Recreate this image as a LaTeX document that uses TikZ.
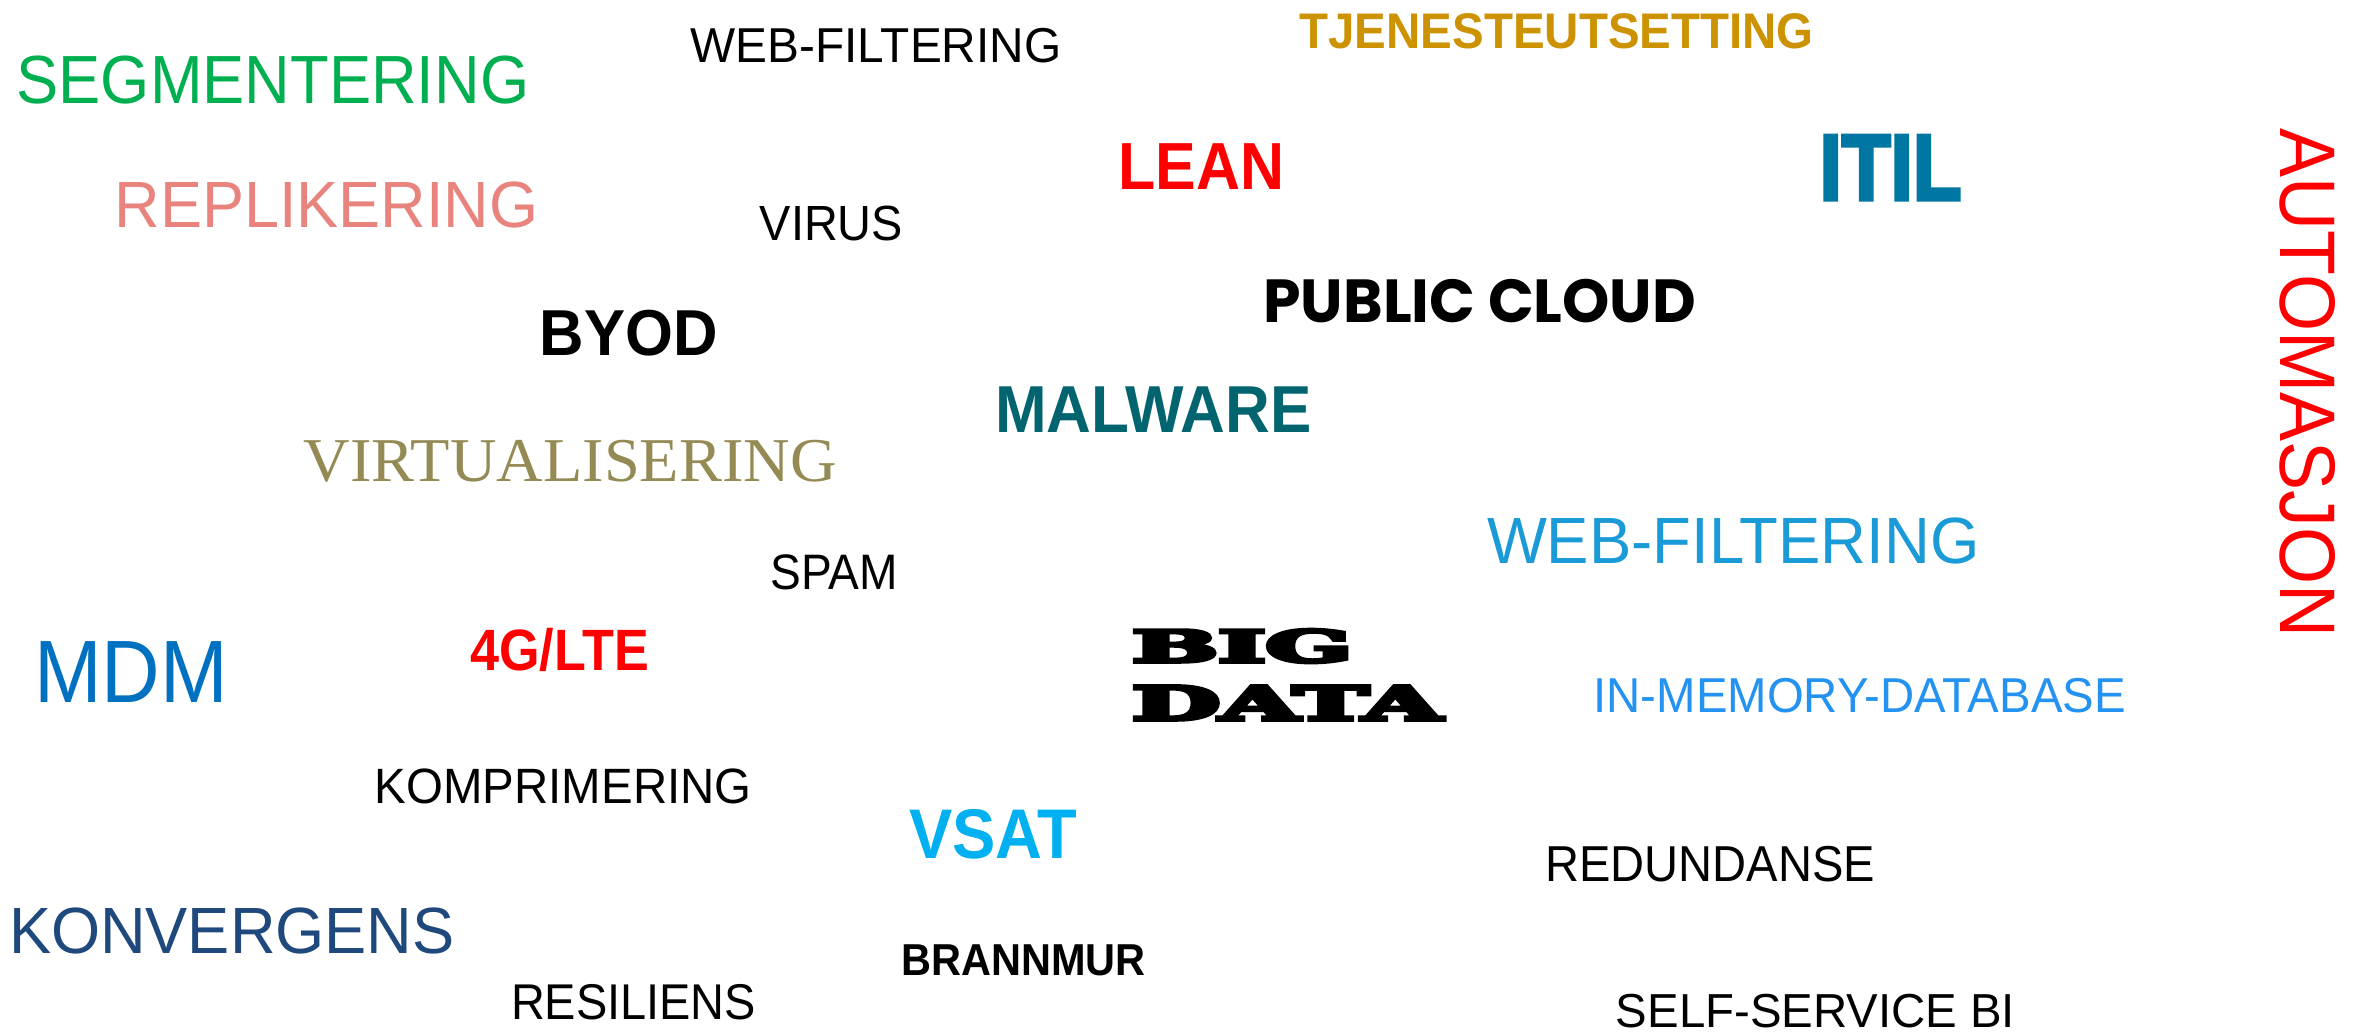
\documentclass[tikz,border=0pt]{standalone}
\usepackage{fontspec}
\usepackage{color}
\usepackage{xcolor}
\usepackage{graphicx}
\usepackage{tikz}
\setmainfont{Liberation Sans}
\newfontfamily\geofont{Poppins}
\newfontfamily\romfont{Liberation Serif}
\newfontfamily\slabfont{DejaVu Serif Bold}[FakeBold=8]
\newfontfamily\itilfont{Liberation Sans Bold}[FakeBold=4]
\newlength\pxu
\setlength\pxu{0.016667cm}
\definecolor{segGreen}{HTML}{00B050}
\definecolor{tjenGold}{HTML}{CC9200}
\definecolor{itilBlue}{HTML}{0076A3}
\definecolor{replRose}{HTML}{E8837D}
\definecolor{malTeal}{HTML}{02646E}
\definecolor{virtOlive}{HTML}{948A54}
\definecolor{webBlue}{HTML}{1A9AD6}
\definecolor{mdmBlue}{HTML}{0070C0}
\definecolor{imdbBlue}{HTML}{2392F0}
\definecolor{vsatCyan}{HTML}{00B0F0}
\definecolor{konvBlue}{HTML}{1F497D}

\begin{document}
\begin{tikzpicture}[x=0.016667cm,y=0.016667cm]
      \tikzset{word/.style={inner sep=0pt,outer sep=0pt,anchor=south west}}
      \tikzset{plain/.style={word,font=\mdseries}}
      \tikzset{heavy/.style={word,font=\bfseries}}
      \def\wfit#1#2#3{\resizebox*{#1\pxu}{#2\pxu}{#3}}
      
      \useasboundingbox (0,0) rectangle (1568,-684);
      
      \node[plain,color=segGreen] (seg) at (11,-69.3) {\wfit{340}{32}{SEGMENTERING}};
      \node[plain,color=black] (webf) at (458,-41.8) {\wfit{246}{23}{WEB-FILTERING}};
      \node[heavy,color=tjenGold] (tjen) at (862,-32.3) {\wfit{341}{23.5}{TJENESTEUTSETTING}};
      \node[heavy,color=red] (lean) at (742,-125.4) {\wfit{110}{30.4}{LEAN}};
      \node[word,color=itilBlue,font=\itilfont] (itil) at (1207,-132.4) {\wfit{94}{42.6}{ITIL}};
      \node[plain,color=red,rotate=-90] (auto) at (1512,-85.4) {\wfit{337.6}{37}{AUTOMASJON}};
      
      \node[plain,color=replRose] (repl) at (76,-151.3) {\wfit{281}{30.7}{REPLIKERING}};
      \node[plain,color=black] (virus) at (504,-160) {\wfit{95}{23.2}{VIRUS}};
      \node[word,color=black,font=\geofont\bfseries] (cloud) at (838,-214.5) {\wfit{287}{29}{PUBLIC CLOUD}};
      \node[heavy,color=black] (byod) at (358,-236.5) {\wfit{118}{30.5}{BYOD}};
      \node[heavy,color=malTeal] (malw) at (660,-287) {\wfit{210}{30.3}{MALWARE}};
      \node[word,color=virtOlive,font=\romfont] (virt) at (201.5,-320) {\wfit{353.5}{28}{VIRTUALISERING}};
      
      \node[plain,color=webBlue] (webb) at (986.3,-374) {\wfit{326.5}{30.7}{WEB-FILTERING}};
      \node[plain,color=black] (spam) at (511,-391.6) {\wfit{84.4}{23.4}{SPAM}};
      \node[plain,color=mdmBlue] (mdm) at (22.8,-465.7) {\wfit{128.5}{40.4}{MDM}};
      \node[heavy,color=red] (lte) at (312,-445.8) {\wfit{118.5}{28.8}{4G/LTE}};
      \node[word,color=black,font=\slabfont] (big) at (751,-439.5) {\wfit{146}{22}{BIG}};
      \node[word,color=black,font=\slabfont] (data) at (751,-477.5) {\wfit{205}{22.5}{DATA}};
      \node[plain,color=imdbBlue] (imdb) at (1057,-473) {\wfit{353}{23}{IN-MEMORY-DATABASE}};
      
      \node[plain,color=black] (komp) at (248.7,-533.3) {\wfit{249.8}{23.3}{KOMPRIMERING}};
      \node[heavy,color=vsatCyan] (vsat) at (603,-570) {\wfit{111.7}{33}{VSAT}};
      \node[plain,color=black] (redu) at (1025,-584.7) {\wfit{218.6}{23.7}{REDUNDANSE}};
      \node[plain,color=konvBlue] (konv) at (6,-632.7) {\wfit{295.5}{30.7}{KONVERGENS}};
      \node[heavy,color=black] (brann) at (598,-647.2) {\wfit{162}{20.7}{BRANNMUR}};
      \node[plain,color=black] (resil) at (339,-676.4) {\wfit{162.5}{23.6}{RESILIENS}};
      \node[plain,color=black] (self) at (1071.8,-682) {\wfit{264.7}{22.4}{SELF-SERVICE BI}};
      
    \end{tikzpicture}
\end{document}
